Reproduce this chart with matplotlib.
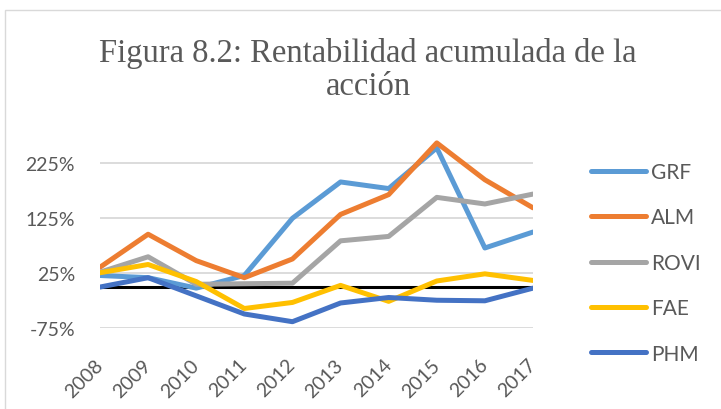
import matplotlib
matplotlib.use("Agg")
import matplotlib.pyplot as plt
from matplotlib.patches import Rectangle
from matplotlib.ticker import FuncFormatter

years = ["2008", "2009", "2010", "2011", "2012", "2013", "2014", "2015", "2016", "2017"]
grf = [21, 17, -2, 21, 125, 191, 179, 253, 71, 100]
alm = [36, 96, 48, 17, 51, 132, 168, 262, 195, 144]
rovi = [27, 55, 5, 6, 7, 84, 92, 163, 151, 169]
fae = [26, 41, 10, -39, -28, 3, -26, 11, 24, 12]
phm = [0, 17, -16, -49, -63, -29, -19, -24, -25, -2]
series_names = ["GRF", "ALM", "ROVI", "FAE", "PHM"]
series_colors = ["#5B9BD5", "#ED7D31", "#A5A5A5", "#FFC000", "#4472C4"]
yticks = [-75, 25, 125, 225]
title = "Figura 8.2: Rentabilidad acumulada de la\nacción"

W, H = 721, 410
fig = plt.figure(figsize=(W / 100, H / 100), dpi=100)
fig.patch.set_facecolor("white")

# chart border
fig.add_artist(Rectangle((4.5 / W, -0.5), 2.0, 0.5 + (H - 10.5) / H,
                         transform=fig.transFigure, fill=False,
                         edgecolor="#D9D9D9", linewidth=1.0))

ax_left, ax_right = 100, 533
y_bottom_px, y_top_px = 329.3, 139.5
ax = fig.add_axes([ax_left / W, (H - y_bottom_px) / H,
                   (ax_right - ax_left) / W, (y_bottom_px - y_top_px) / H])
ax.set_facecolor("none")

x = list(range(len(years)))
for name, vals, col in zip(series_names, [grf, alm, rovi, fae, phm], series_colors):
    ax.plot(x, vals, color=col, linewidth=3.6, solid_capstyle="round",
            solid_joinstyle="round", label=name, zorder=3)

ax.axhline(0, color="black", linewidth=2.2, zorder=2)
ax.set_xlim(0, len(years) - 1)
ax.set_ylim(-75, 270)
ax.set_yticks(yticks)
ax.yaxis.set_major_formatter(FuncFormatter(lambda v, p: f"{v:.0f}%"))
ax.grid(axis="y", color="#D9D9D9", linewidth=1.3, zorder=1)
ax.set_axisbelow(True)
for s in ax.spines.values():
    s.set_visible(False)

ax.set_xticks(x)
ax.set_xticklabels(years)
ax.tick_params(axis="both", length=0, labelsize=14, labelcolor="#595959")
ax.tick_params(axis="y", pad=18)
ax.tick_params(axis="x", pad=24)
for lab in ax.get_xticklabels() + ax.get_yticklabels():
    lab.set_fontfamily("Lato")
plt.setp(ax.get_xticklabels(), rotation=45, ha="right", va="center",
         rotation_mode="anchor")

fig.text(368 / W, 1 - 70 / H, title, ha="center", va="center",
         fontsize=23.5, color="#595959", family="Liberation Serif",
         linespacing=1.1)

leg = ax.legend(loc="upper left", bbox_to_anchor=(591 / W, 1 - 163 / H),
                bbox_transform=fig.transFigure, frameon=False,
                prop={"family": "Lato", "size": 15},
                handlelength=2.64, handletextpad=0.25, labelspacing=1.22,
                borderpad=0, borderaxespad=0)
for t in leg.get_texts():
    t.set_color("#595959")

fig.savefig("out.png", dpi=100)
